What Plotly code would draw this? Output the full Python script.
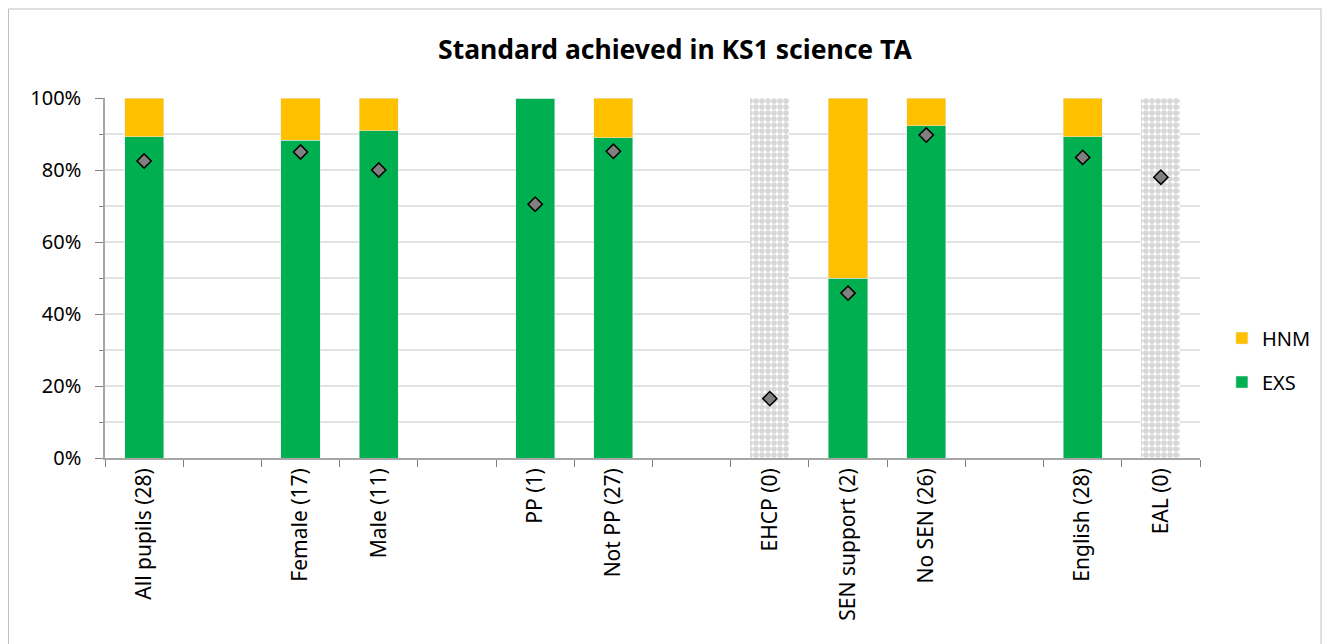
import plotly.graph_objects as go

categories = ["All pupils (28)", " ", "Female (17)", "Male (11)", "  ", "PP (1)", "Not PP (27)", "   ",
              "EHCP (0)", "SEN support (2)", "No SEN (26)", "    ", "English (28)", "EAL (0)"]
exs = [89.3, None, 88.2, 90.9, None, 100.0, 88.9, None, None, 50.0, 92.3, None, 89.3, None]
hnm = [10.7, None, 11.8, 9.1, None, 0.0, 11.1, None, None, 50.0, 7.7, None, 10.7, None]
suppressed = [None, None, None, None, None, None, None, None, 100, None, None, None, None, 100]
national = [82.5, None, 85.0, 80.0, None, 70.5, 85.2, None, 16.5, 45.8, 89.7, None, 83.5, 78.0]

W, H = 1314, 660
ml, mr, mt, mb = 97, 122, 90, 210

fig = go.Figure()
fig.add_trace(go.Bar(x=categories, y=exs, name="EXS", marker_color="#00B050", width=0.5,
                     legendgroup="exs", legendrank=2))
fig.add_trace(go.Bar(x=categories, y=hnm, name="HNM", marker_color="#FFC000", width=0.5,
                     legendgroup="hnm", legendrank=1))
fig.add_trace(go.Bar(x=categories, y=suppressed, name="n/a", showlegend=False, width=0.5,
                     legendgroup="na",
                     marker=dict(color="white", line=dict(width=0),
                                 pattern=dict(shape=".", fgcolor="#b0b0b0", bgcolor="white",
                                              size=6, solidity=0.7))))
fig.add_trace(go.Scatter(x=categories, y=national, mode="markers", showlegend=False,
                         legendgroup="nat",
                         marker=dict(symbol="diamond", size=11, color="#808080",
                                     line=dict(color="black", width=1.5))))

pw = (W - ml - mr)
ph = (H - mt - mb)
fig.add_shape(type="rect", xref="paper", yref="paper",
              x0=-ml / pw + 0.5 / pw, x1=1 + (mr - 1) / pw,
              y0=-mb / ph + 0.5 / ph, y1=1 + (mt - 1) / ph,
              line=dict(color="#bfbfbf", width=1), layer="below")

fig.update_layout(
    width=W, height=H,
    margin=dict(l=ml, r=mr, t=mt, b=mb, autoexpand=False),
    barmode="stack",
    bargap=0.5,
    paper_bgcolor="white", plot_bgcolor="white",
    font=dict(family="Noto Sans, Open Sans, sans-serif", size=20, color="black"),
    title=dict(text="<b>Standard achieved in KS1 science TA</b>", x=0.5076, xanchor="center",
               y=1 - 42 / H, yanchor="middle", font=dict(size=26.5)),
    legend=dict(x=1.02, y=0.272, xanchor="left", yanchor="middle", traceorder="grouped",
                font=dict(size=20), itemwidth=30, tracegroupgap=15),
    xaxis=dict(type="category", range=[-0.5, 13.5], automargin=False, tickangle=-90,
               tickson="boundaries", ticks="outside",
               ticklen=7, tickcolor="#808080", showline=True, linecolor="#a6a6a6", linewidth=1.5,
               showgrid=False, tickfont=dict(size=21)),
    yaxis=dict(range=[0, 100], automargin=False, dtick=20, ticksuffix="%", ticks="outside", ticklen=8,
               tickcolor="#808080", showline=True, linecolor="#a6a6a6", linewidth=1.5,
               gridcolor="#e3e3e3", gridwidth=1.5, zeroline=False, tickfont=dict(size=20),
               ticklabelstandoff=10,
               minor=dict(dtick=10, ticks="outside", ticklen=4, tickcolor="#808080",
                          showgrid=True, gridcolor="#e3e3e3", gridwidth=1.5)),
)

fig.write_html("out.html")
